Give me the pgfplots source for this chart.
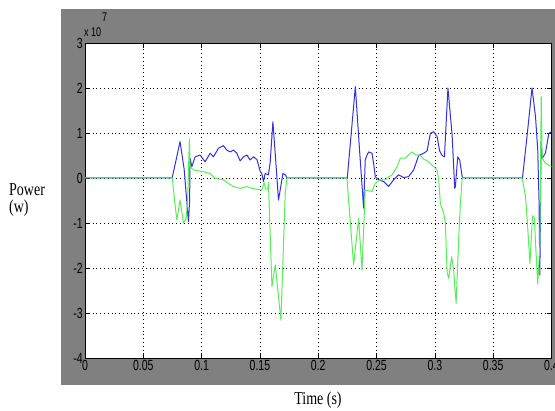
\documentclass[border=0pt]{standalone}
\usepackage{fontspec}
\setmainfont{Liberation Serif}
\setsansfont{Liberation Sans}
\usepackage{graphicx}
\usepackage{pgfplots}
\pgfplotsset{compat=1.18}
\definecolor{figgray}{RGB}{128,128,128}
\definecolor{mblue}{RGB}{50,50,225}
\definecolor{mgreen}{RGB}{85,240,85}
\newcommand{\tl}[1]{\scalebox{1}[1.4]{\sffamily\fontsize{10.5}{10.5}\selectfont #1}}
\newcommand{\lb}[1]{\scalebox{1}[1.3]{\fontsize{14}{14}\selectfont #1}}
\begin{document}
\begin{tikzpicture}[x=1pt,y=1pt]
\useasboundingbox (0,0) rectangle (555,411);
\clip (0,0) rectangle (555,411);
\fill[figgray] (61,26) rectangle (570,402);
\begin{axis}[
  at={(85pt,53pt)}, anchor=south west, scale only axis,
  width=466.5pt, height=315pt,
  xmin=0, xmax=0.4, ymin=-4, ymax=3,
  axis background/.style={fill=white},
  xtick={0,0.05,0.1,0.15,0.2,0.25,0.3,0.35,0.4},
  xticklabels={\tl{0},\tl{0.05},\tl{0.1},\tl{0.15},\tl{0.2},\tl{0.25},\tl{0.3},\tl{0.35},\tl{0.4}},
  ytick={-4,-3,-2,-1,0,1,2,3},
  yticklabels={\tl{-4},\tl{-3},\tl{-2},\tl{-1},\tl{0},\tl{1},\tl{2},\tl{3}},
  grid=major,
  grid style={black, line width=0.6pt, dash pattern=on 0.8pt off 3pt},
  tick align=inside, major tick length=5pt,
  tick style={black, line width=0.7pt},
  axis line style={black, line width=0.8pt},
  xticklabel style={inner sep=2pt},
  yticklabel style={inner sep=2pt},
  clip=true,
]
\addplot[mblue, line width=1pt, line join=round] coordinates {
(0,0) (0.0747,0) (0.0781,0.4) (0.0815,0.81) (0.0850,0.2) (0.0887,-0.97) (0.0897,-0.5)
(0.0901,0.44) (0.0916,0.25) (0.0944,0.47) (0.0987,0.51) (0.1030,0.36) (0.1073,0.55)
(0.1101,0.47) (0.1144,0.66) (0.1187,0.72) (0.1216,0.62) (0.1245,0.58) (0.1273,0.62)
(0.1302,0.55) (0.1330,0.38) (0.1359,0.47) (0.1388,0.51) (0.1416,0.40) (0.1445,0.47)
(0.1474,0.41) (0.1502,0.15) (0.1516,0.1) (0.1530,-0.08) (0.1545,0.1) (0.1573,0.07)
(0.1588,0.35) (0.1611,1.25) (0.1635,0.4) (0.1659,-0.49) (0.1678,-0.2) (0.1697,0.1)
(0.1717,0.07) (0.1734,0)
(0.2249,0) (0.2283,1.0) (0.2318,2.03) (0.2352,0.7) (0.2389,-0.67) (0.2403,0.4)
(0.2412,0.47) (0.2432,0.58) (0.2461,0.55) (0.2476,0.3) (0.2489,0.03) (0.2518,-0.04)
(0.2561,-0.08) (0.2603,-0.19) (0.2646,-0.04) (0.2689,0.07) (0.2732,0.01) (0.2775,0.03)
(0.2818,0.18) (0.2861,0.5) (0.2904,0.55) (0.2933,0.6) (0.2961,0.99) (0.2990,1.03)
(0.3019,0.92) (0.3041,0.6) (0.3062,0.5) (0.3082,0.47) (0.3112,2.0) (0.3148,0.95)
(0.3170,-0.23) (0.3176,-0.19) (0.3196,0.47) (0.3213,0.4) (0.3234,0.03) (0.3240,0)
(0.3751,0) (0.3785,0.8) (0.3833,2.0) (0.3863,1.36) (0.3882,0.62) (0.3893,-0.5)
(0.3900,-2.16) (0.3906,-0.5) (0.3910,0.8) (0.3920,0.44) (0.3948,0.55) (0.3977,0.99)
(0.4,1.03)
};
\addplot[mgreen, line width=1pt, line join=round] coordinates {
(0,0) (0.0749,0) (0.0768,-0.5) (0.0787,-0.93) (0.0815,-0.49) (0.0844,-1.0) (0.0867,-0.9)
(0.0880,-0.5) (0.0895,0.87) (0.0901,0.25) (0.0930,0.18) (0.1015,0.14) (0.1073,0.1)
(0.1116,-0.01) (0.1187,-0.04) (0.1230,-0.12) (0.1273,-0.19) (0.1330,-0.23) (0.1388,-0.19)
(0.1431,-0.23) (0.1474,-0.25) (0.1516,-0.27) (0.1536,-0.1) (0.1549,-0.25) (0.1567,-0.25)
(0.1573,-0.1) (0.1575,-0.27) (0.1603,-2.41) (0.1631,-1.93) (0.1680,-3.16) (0.1717,-0.33)
(0.1732,0)
(0.2246,0) (0.2303,-1.93) (0.2346,-0.9) (0.2375,-2.04) (0.2403,-0.27) (0.2461,-0.3)
(0.2489,-0.12) (0.2532,-0.04) (0.2575,-0.04) (0.2603,0.02) (0.2633,0.07) (0.2676,0.25)
(0.2704,0.44) (0.2747,0.44) (0.2775,0.51) (0.2803,0.58) (0.2833,0.52) (0.2876,0.5)
(0.2904,0.42) (0.2947,0.36) (0.2990,0.25) (0.3019,0.18) (0.3033,-0.04) (0.3047,-0.56)
(0.3076,-0.79) (0.3090,-1.0) (0.3105,-2.1) (0.3119,-2.23) (0.3144,-1.75) (0.3161,-2.04)
(0.3182,-2.79) (0.3205,-1.3) (0.3219,-0.56) (0.3234,0)
(0.3748,0) (0.3777,-0.41) (0.3791,-0.9) (0.3815,-1.9) (0.3837,-0.84) (0.3854,-0.9)
(0.3863,-1.45) (0.3882,-2.34) (0.3900,-1.5) (0.3912,1.81) (0.3920,0.44) (0.3948,0.33)
(0.4,0.25)
};
\end{axis}
\node[anchor=base west, inner sep=0pt] at (84,374) {\scalebox{1}[1.4]{\sffamily\fontsize{9}{9}\selectfont x 10}};
\node[anchor=base west, inner sep=0pt] at (102,389) {\scalebox{1}[1.4]{\sffamily\fontsize{9}{9}\selectfont 7}};
\node[anchor=base west, inner sep=0pt] at (9,215) {\lb{Power}};
\node[anchor=base west, inner sep=0pt] at (9,198) {\lb{(w)}};
\node[anchor=base, inner sep=0pt] at (318,6) {\lb{Time (s)}};
\end{tikzpicture}
\end{document}
